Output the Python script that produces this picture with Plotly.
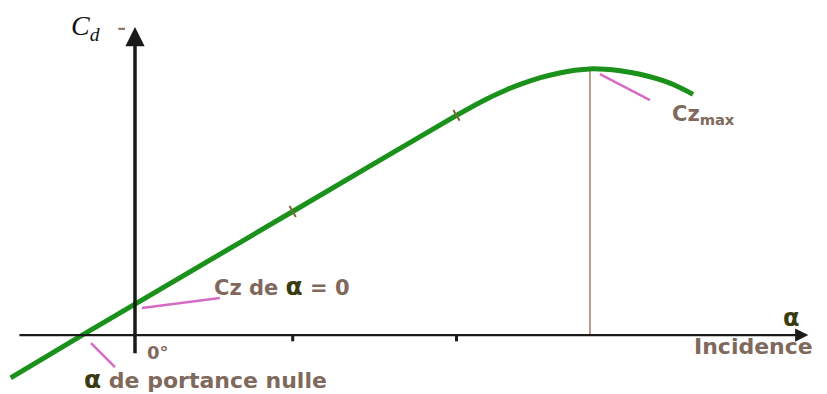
import plotly.graph_objects as go

# ---- data (incidence in degrees, lift coefficient) ----
alpha = [-4.1, -1.74, 0.0, 5.2, 10.6, 11.5, 12.2, 12.7, 13.4, 14.0, 14.5,
         15.0, 15.5, 16.0, 16.65, 17.2, 17.75, 18.4]
cz = [-0.24, 0.0, 0.174, 0.694, 1.234, 1.318, 1.374, 1.408, 1.447, 1.472,
      1.487, 1.495, 1.493, 1.484, 1.465, 1.440, 1.407, 1.352]

tick_alpha = [5.2, 10.6]          # tick marks on the incidence axis
curve_marks_alpha = [5.2, 10.6]    # small marks on the curve
curve_marks_cz = [0.694, 1.234]
alpha_czmax = 15.0
czmax = 1.495

label_cd = "C<sub>d</sub>"
label_czmax = "Cz<sub>max</sub>"
label_cz0 = 'Cz de <span style="color:#3b3b12;font-size:25px">α</span> = 0'
label_zero = "0°"
label_nulle = '<span style="color:#3b3b12;font-size:25px">α</span> de portance nulle'
label_incid = "Incidence"
label_alpha = "α"

TXT = "#7f695d"
PINK = "#d56cc6"
GREEN = "#1a911a"
FONT = "DejaVu Sans"

fig = go.Figure()

fig.add_trace(go.Scatter(
    x=alpha, y=cz, mode="lines",
    line=dict(color=GREEN, width=5, shape="spline", smoothing=0.8),
    hoverinfo="skip", showlegend=False))

fig.add_trace(go.Scatter(
    x=curve_marks_alpha, y=curve_marks_cz, mode="markers",
    marker=dict(symbol="line-ns", size=9, angle=-30,
                line=dict(color="#7a6a3a", width=2)),
    hoverinfo="skip", showlegend=False))

shapes = []
# vertical line at Cz max
shapes.append(dict(type="line", x0=alpha_czmax, x1=alpha_czmax, y0=0, y1=czmax,
                   line=dict(color="#b49c8c", width=2), layer="below"))
# ticks on the incidence axis
for t in tick_alpha:
    shapes.append(dict(type="line", x0=t, x1=t, y0=0, y1=-0.035,
                       line=dict(color="#1a1a1a", width=3)))
# pink leader lines
shapes.append(dict(type="line", x0=15.33, y0=1.466, x1=16.98, y1=1.320,
                   line=dict(color=PINK, width=2.5)))
shapes.append(dict(type="line", x0=0.23, y0=0.152, x1=2.8, y1=0.208,
                   line=dict(color=PINK, width=2.5)))
shapes.append(dict(type="line", x0=-1.45, y0=-0.045, x1=-0.66, y1=-0.18,
                   line=dict(color=PINK, width=2.5)))
# small brown mark beside the vertical arrow
shapes.append(dict(type="line", x0=-0.55, y0=1.72, x1=-0.33, y1=1.72,
                   line=dict(color="#8a6a55", width=2)))

annotations = []
# axes as arrows
annotations.append(dict(x=0, y=1.73, ax=0, ay=-0.11, xref="x", yref="y",
                        axref="x", ayref="y", text="", showarrow=True,
                        arrowhead=2, arrowsize=1.1, arrowwidth=3.5,
                        arrowcolor="#1a1a1a", standoff=0, startstandoff=0))
annotations.append(dict(x=22.2, y=0, ax=-3.86, ay=0, xref="x", yref="y",
                        axref="x", ayref="y", text="", showarrow=True,
                        arrowhead=2, arrowsize=1.2, arrowwidth=2.2,
                        arrowcolor="#1a1a1a", standoff=0, startstandoff=0))


def lab(x, y, text, size=19, color=TXT, family=FONT, weight="bold",
        style="normal", xanchor="center"):
    annotations.append(dict(x=x, y=y, xref="x", yref="y", text=text,
                            showarrow=False, xanchor=xanchor, yanchor="middle",
                            font=dict(family=family, size=size, color=color,
                                      weight=weight, style=style)))


lab(-1.62, 1.73, label_cd, size=28, color="#111111", family="Liberation Serif",
    weight="normal", style="italic")
lab(18.75, 1.236, label_czmax, size=21)
lab(4.85, 0.275, label_cz0, size=21)
lab(0.75, -0.096, label_zero, size=18)
lab(-1.75, -0.25, label_nulle, size=22, xanchor="left")
lab(20.4, -0.067, label_incid, size=22)
lab(21.66, 0.096, label_alpha, size=24, color="#3b3b12")

fig.update_layout(
    width=827, height=394,
    margin=dict(l=0, r=0, t=0, b=0),
    paper_bgcolor="white", plot_bgcolor="white",
    xaxis=dict(visible=False, range=[-4.187, 23.08], fixedrange=True),
    yaxis=dict(visible=False, range=[-0.376, 1.837], fixedrange=True),
    shapes=shapes, annotations=annotations,
    showlegend=False,
)

fig.write_html("out.html")
